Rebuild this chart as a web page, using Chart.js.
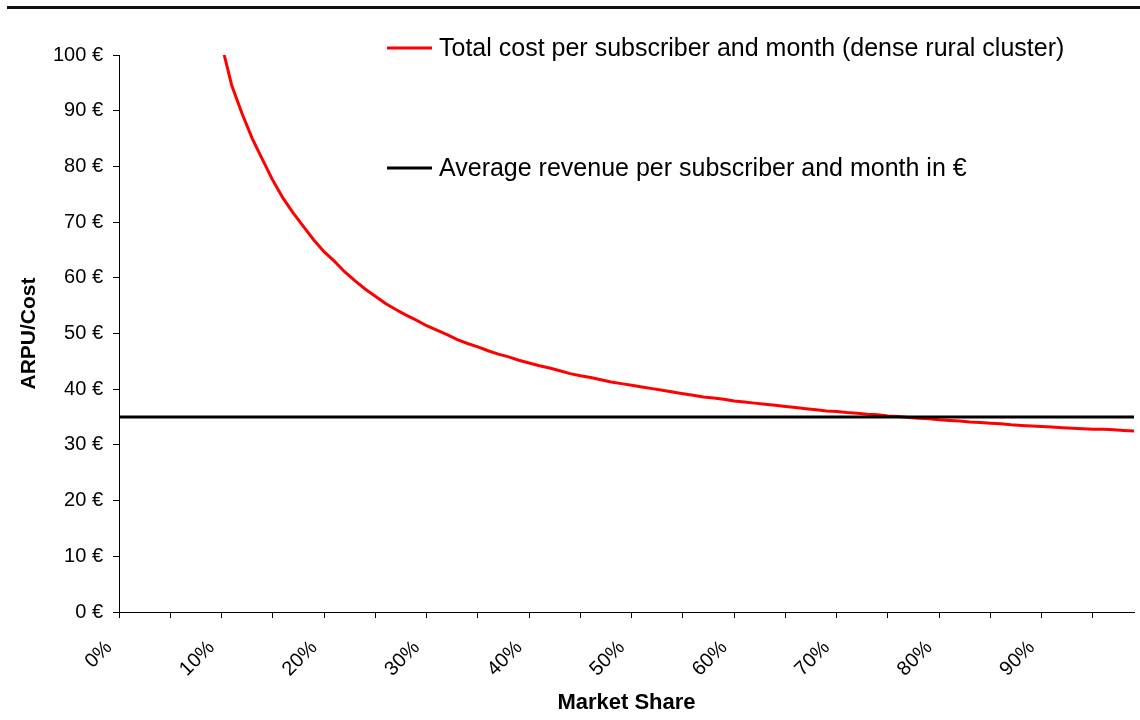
<!DOCTYPE html>
<html>
<head>
<meta charset="utf-8">
<title>ARPU vs cost per subscriber</title>
<script src="https://cdn.jsdelivr.net/npm/chart.js@4.4.1/dist/chart.umd.min.js"></script>
<style>
  html, body { margin: 0; padding: 0; background: #fff; }
  #wrap { width: 1140px; height: 720px; position: relative; }
</style>
</head>
<body>
<div id="wrap"><canvas id="costChart" width="1140" height="720"></canvas></div>
<script>
// market share in %, one point per percent
const shares = [
  10, 11, 12, 13, 14, 15, 16, 17, 18, 19,
  20, 21, 22, 23, 24, 25, 26, 27, 28, 29,
  30, 31, 32, 33, 34, 35, 36, 37, 38, 39,
  40, 41, 42, 43, 44, 45, 46, 47, 48, 49,
  50, 51, 52, 53, 54, 55, 56, 57, 58, 59,
  60, 61, 62, 63, 64, 65, 66, 67, 68, 69,
  70, 71, 72, 73, 74, 75, 76, 77, 78, 79,
  80, 81, 82, 83, 84, 85, 86, 87, 88, 89,
  90, 91, 92, 93, 94, 95, 96, 97, 98, 99
];
// total cost per subscriber and month (dense rural cluster), in €
const costPerSub = [
  102, 94.5, 89.5, 85.0, 81.2, 77.5, 74.3, 71.6, 69.2, 66.8,
  64.7, 63.0, 61.1, 59.5, 58.0, 56.7, 55.4, 54.3, 53.3, 52.4,
  51.4, 50.6, 49.8, 48.9, 48.2, 47.6, 46.9, 46.3, 45.8, 45.2,
  44.7, 44.2, 43.8, 43.3, 42.8, 42.4, 42.1, 41.7, 41.3, 41.0,
  40.7, 40.4, 40.1, 39.8, 39.5, 39.2, 38.9, 38.6, 38.4, 38.2,
  37.9, 37.7, 37.5, 37.3, 37.1, 36.9, 36.7, 36.5, 36.3, 36.1,
  36.0, 35.8, 35.7, 35.5, 35.4, 35.2, 35.1, 34.9, 34.8, 34.7,
  34.5, 34.4, 34.3, 34.1, 34.0, 33.9, 33.8, 33.6, 33.5, 33.4,
  33.3, 33.2, 33.1, 33.0, 32.9, 32.8, 32.8, 32.7, 32.6, 32.5
];
// flat ARPU across the whole range
const arpuShares = [0, 99];
const arpuValues = [35, 35];

const FONT = '"Liberation Sans", Arial, sans-serif';

// legend drawn as two separate rows inside the plot
const legendRows = [48, 168];
const inlineLegend = {
  id: 'inlineLegend',
  afterDraw(chart) {
    const ctx = chart.ctx;
    ctx.save();
    chart.data.datasets.forEach((ds, i) => {
      const y = legendRows[i];
      ctx.strokeStyle = ds.borderColor;
      ctx.lineWidth = 3;
      ctx.beginPath();
      ctx.moveTo(387, y);
      ctx.lineTo(432, y);
      ctx.stroke();
      ctx.fillStyle = '#000';
      ctx.font = '25px ' + FONT;
      ctx.textAlign = 'left';
      ctx.textBaseline = 'middle';
      ctx.fillText(ds.label, 439, y + 1);
    });
    ctx.restore();
  }
};

// heavy rule across the top of the page
const topRule = {
  id: 'topRule',
  beforeDraw(chart) {
    const ctx = chart.ctx;
    ctx.save();
    ctx.fillStyle = '#111';
    ctx.fillRect(7, 6, 1133, 3);
    ctx.restore();
  }
};

const ctx = document.getElementById('costChart').getContext('2d');
const costChart = new Chart(ctx, {
  type: 'line',
  data: {
    datasets: [
      {
        label: 'Total cost per subscriber and month (dense rural cluster)',
        data: shares.map((s, i) => ({ x: s, y: costPerSub[i] })),
        borderColor: '#ff0000',
        borderWidth: 3,
        pointRadius: 0,
        tension: 0,
        order: 1
      },
      {
        label: 'Average revenue per subscriber and month in €',
        data: arpuShares.map((s, i) => ({ x: s, y: arpuValues[i] })),
        borderColor: '#000000',
        borderWidth: 3,
        pointRadius: 0,
        tension: 0,
        order: 0
      }
    ]
  },
  options: {
    responsive: false,
    animation: false,
    layout: { padding: { top: 55, right: 6, bottom: 4, left: 0 } },
    plugins: {
      legend: { display: false },
      tooltip: { enabled: false }
    },
    scales: {
      x: {
        type: 'linear',
        min: 0,
        max: 99,
        ticks: {
          stepSize: 5,
          includeBounds: false,
          autoSkip: false,
          maxRotation: 45,
          minRotation: 45,
          padding: 18,
          labelOffset: -10,
          color: '#000',
          font: { family: FONT, size: 20 },
          callback: v => (v % 10 === 0 ? v + '%' : '')
        },
        grid: { drawOnChartArea: false, color: '#000', tickLength: 6, lineWidth: 1 },
        border: { color: '#000', width: 1 },
        title: {
          display: true,
          text: 'Market Share',
          color: '#000',
          font: { family: FONT, size: 22, weight: 'bold' },
          padding: { top: 0, bottom: 0 }
        },
        afterFit: scale => { scale.height = 104; }
      },
      y: {
        min: 0,
        max: 100,
        ticks: {
          stepSize: 10,
          padding: 10,
          color: '#000',
          font: { family: FONT, size: 20 },
          callback: v => v + ' €'
        },
        grid: { drawOnChartArea: false, color: '#000', tickLength: 6, lineWidth: 1 },
        border: { color: '#000', width: 1 },
        title: {
          display: true,
          text: 'ARPU/Cost',
          color: '#000',
          font: { family: FONT, size: 21, weight: 'bold' },
          padding: { top: 17, bottom: 0 }
        },
        afterFit: scale => { scale.width = 119; }
      }
    }
  },
  plugins: [topRule, inlineLegend]
});
</script>
</body>
</html>
